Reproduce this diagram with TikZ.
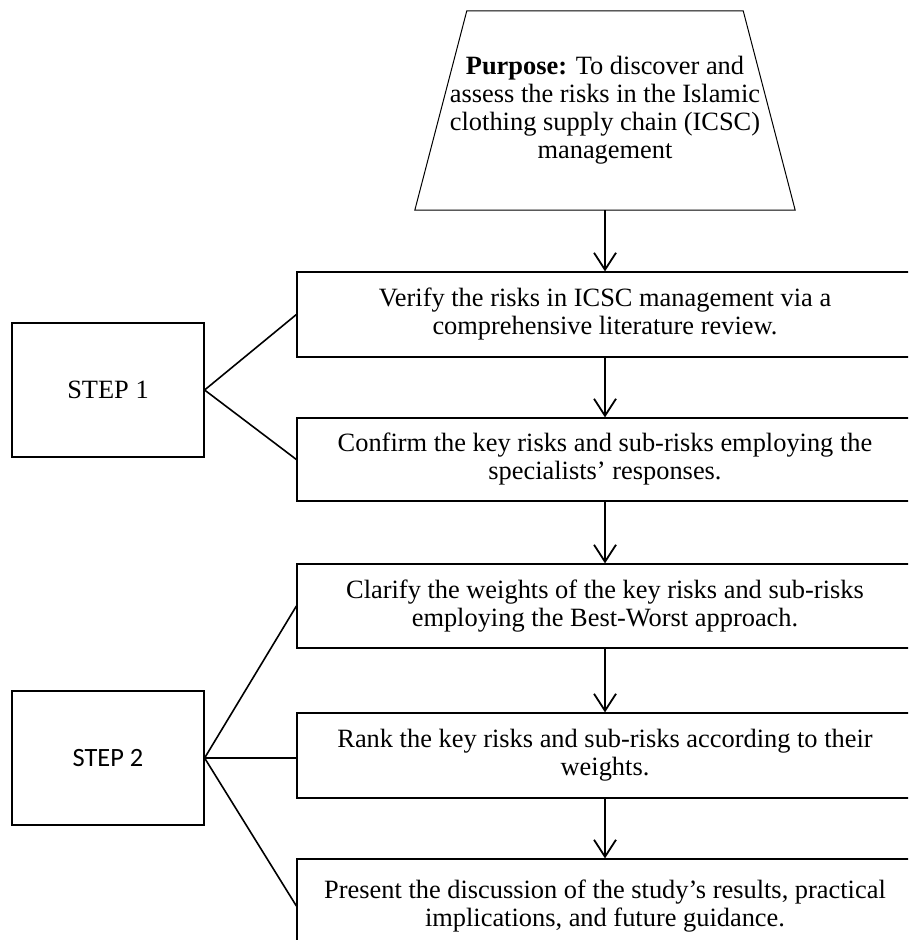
\documentclass[tikz,border=0pt]{standalone}
\usepackage{fontspec}
\setmainfont{Liberation Serif}
\newfontfamily\stepsans{Carlito}
\usepackage{tikz}
\usetikzlibrary{arrows.meta}

\begin{document}
\begin{tikzpicture}[x=1pt,y=-1pt,
  font=\fontsize{26.4}{28}\selectfont,
  taskbox/.style={draw,line width=1.2pt,minimum width=616pt,align=center,inner sep=0pt},
  stepbox/.style={draw,line width=1.2pt,minimum width=192pt,minimum height=134pt},
  flow/.style={->,>={Straight Barb[length=17pt,width=22pt]},line width=1.8pt},
  spoke/.style={line width=1.6pt}]
\useasboundingbox (0,0) rectangle (908,940);
\clip (0,0) rectangle (908,940);

\node[minimum width=380pt,minimum height=199pt,inner sep=0pt,align=center](1) at(605,110.5){\textbf{Purpose:} To discover and\\assess the risks in the Islamic\\clothing supply chain (ICSC)\\management};
\draw[line width=1pt](1.south west)--(1.south east)--([xshift=-52pt]1.north east)--([xshift=52pt]1.north west)--cycle;
\node[taskbox,minimum height=85pt](2) at(605,314.5){Verify the risks in ICSC management via a\\comprehensive literature review.};
\node[taskbox,minimum height=83pt](3) at(605,459.5){Confirm the key risks and sub-risks employing the\\specialists’ responses.};
\node[taskbox,minimum height=84pt](4) at(605,606){Clarify the weights of the key risks and sub-risks\\employing the Best-Worst approach.};
\node[taskbox,minimum height=85pt](5) at(605,755.5){Rank the key risks and sub-risks according to their\\weights.};
\node[taskbox,minimum height=94pt](6) at(605,906){Present the discussion of the study’s results, practical\\implications, and future guidance.};
\node[stepbox](7) at(108,390){STEP 1};
\node[stepbox,font=\fontsize{26.4}{28}\stepsans](8) at(108,758){STEP 2};

\draw[flow](1)--(2);
\draw[flow](2)--(3);
\draw[flow](3)--(4);
\draw[flow](4)--(5);
\draw[flow](5)--(6);
\draw[spoke](7.east)--(2.west);
\draw[spoke](7.east)--(3.west);
\draw[spoke](8.east)--(4.west);
\draw[spoke](8.east)--(8.east -| 5.west);
\draw[spoke](8.east)--(6.west);
\end{tikzpicture}
\end{document}
